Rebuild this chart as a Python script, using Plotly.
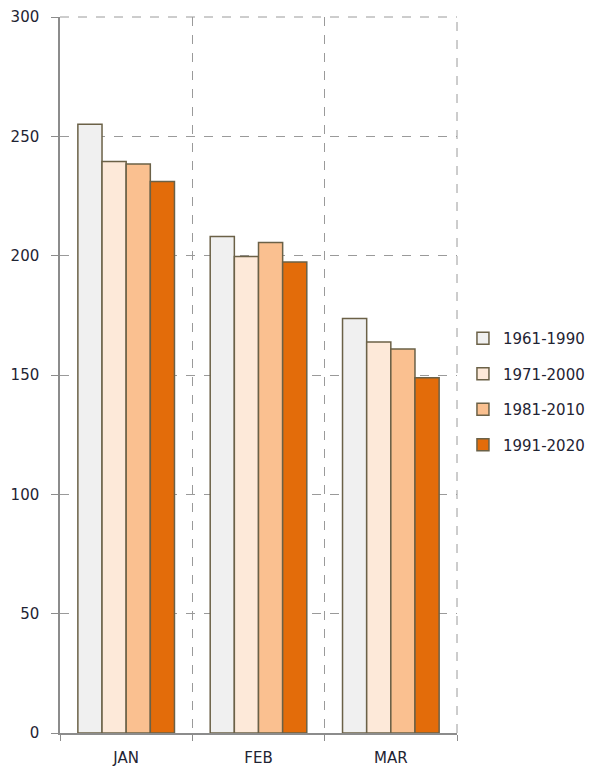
import plotly.graph_objects as go

months = ["JAN", "FEB", "MAR"]
series_names = ["1961-1990", "1971-2000", "1981-2010", "1991-2020"]
v_1961_1990 = [255.1, 208.0, 173.7]
v_1971_2000 = [239.5, 199.7, 163.8]
v_1981_2010 = [238.4, 205.5, 160.9]
v_1991_2020 = [231.1, 197.3, 148.8]
series_values = [v_1961_1990, v_1971_2000, v_1981_2010, v_1991_2020]
colors = ["#f0f0f0", "#fde9d9", "#fac090", "#e36c0a"]
y_ticks = [0, 50, 100, 150, 200, 250, 300]

fig = go.Figure()
for name, vals, col in zip(series_names, series_values, colors):
    fig.add_trace(go.Bar(
        x=months, y=vals, name=name, legendgroup=name,
        marker=dict(color=col, line=dict(color="#6b6147", width=1.5)),
    ))

grid_col = "#9a9a9a"
font_family = "DejaVu Sans, sans-serif"
fig.update_layout(
    width=595, height=769,
    margin=dict(l=60, r=138, t=17, b=36, autoexpand=False),
    paper_bgcolor="white", plot_bgcolor="white",
    barmode="group", bargap=0.27, bargroupgap=0,
    font=dict(family=font_family, size=15, color="#1f2433"),
    showlegend=True,
    legend=dict(x=1.015, xanchor="left", y=0.477, yanchor="middle",
                tracegroupgap=13, font=dict(size=15),
                bgcolor="rgba(0,0,0,0)"),
    xaxis=dict(
        showline=True, linecolor="#8c8c8c", linewidth=1.5,
        tickson="boundaries", ticks="outside", ticklen=6, tickcolor="#8c8c8c",
        showgrid=True, gridcolor=grid_col, griddash="dash", gridwidth=1,
        tickfont=dict(size=15), ticklabelstandoff=10, automargin=False,
    ),
    yaxis=dict(
        range=[0, 300], tickvals=y_ticks,
        showline=True, linecolor="#8c8c8c", linewidth=1.5,
        ticks="outside", ticklen=7, tickcolor="#8c8c8c",
        showgrid=True, gridcolor=grid_col, griddash="dash", gridwidth=1,
        zeroline=False, tickfont=dict(size=15), ticklabelstandoff=9,
        automargin=False,
    ),
    shapes=[
        dict(type="line", xref="paper", yref="paper", x0=0, x1=1, y0=1, y1=1,
             line=dict(color=grid_col, width=1, dash="dash")),
        dict(type="line", xref="paper", yref="paper", x0=1, x1=1, y0=0, y1=1,
             line=dict(color=grid_col, width=1, dash="dash")),
    ],
)
fig.write_html("out.html")
